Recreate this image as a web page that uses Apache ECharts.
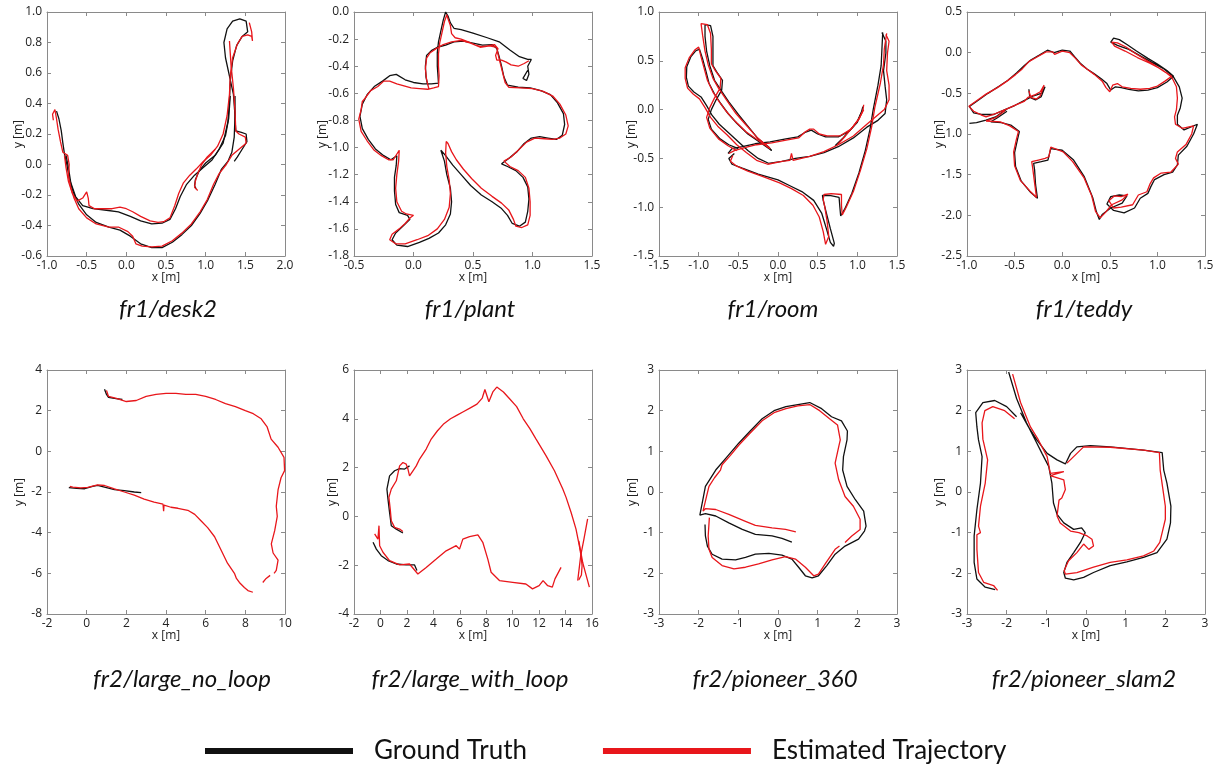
<!DOCTYPE html>
<html><head><meta charset="utf-8">
<script src="https://cdn.jsdelivr.net/npm/echarts@6/dist/echarts.min.js"></script>
<style>html,body{margin:0;padding:0;background:#fff}#c{width:1217px;height:766px}</style>
</head><body><div id="c"></div>
<script>
// ---------- panel titles ----------
const titles = ['fr1/desk2','fr1/plant','fr1/room','fr1/teddy','fr2/large_no_loop','fr2/large_with_loop','fr2/pioneer_360','fr2/pioneer_slam2'];
// ---------- axis ranges [min,max,interval] ----------
const xRanges = [[-1,2,0.5],[-0.5,1.5,0.5],[-1.5,1.5,0.5],[-1,1.5,0.5],[-2,10,2],[-2,16,2],[-3,3,1],[-3,3,1]];
const yRanges = [[-0.6,1.0,0.2],[-1.8,0,0.2],[-1.5,1.0,0.5],[-2.5,0.5,0.5],[-8,4,2],[-4,6,2],[-3,3,1],[-3,3,1]];
const labelDecimals = [1,1,1,1,0,0,0,0];

// ---------- trajectories (segments of [x,y]) ----------
const desk2_gt = [
 [[-0.88,0.35],[-0.85,0.30],[-0.82,0.22],[-0.80,0.14],[-0.78,0.07],[-0.75,0.00],[-0.72,-0.09],[-0.67,-0.18],[-0.60,-0.26],[-0.50,-0.33],[-0.38,-0.38],[-0.22,-0.41],[-0.08,-0.43],[0.05,-0.47],[0.18,-0.52],[0.32,-0.545],[0.45,-0.545],[0.58,-0.51],[0.70,-0.46],[0.82,-0.40],[0.93,-0.32],[1.03,-0.23],[1.12,-0.13],[1.20,-0.03],[1.28,0.02],[1.33,0.08],[1.36,0.18],[1.37,0.32],[1.35,0.46],[1.30,0.58],[1.25,0.70],[1.23,0.80],[1.27,0.89],[1.34,0.94],[1.43,0.955],[1.51,0.94],[1.53,0.87],[1.46,0.84],[1.39,0.78],[1.34,0.68],[1.31,0.55],[1.30,0.42],[1.28,0.28],[1.22,0.14],[1.12,0.06],[1.00,0.01],[0.92,-0.04],[0.87,-0.10],[0.86,-0.14],[0.88,-0.16]],
 [[-0.76,0.06],[-0.73,-0.02],[-0.70,-0.12],[-0.64,-0.21],[-0.55,-0.27],[-0.42,-0.29],[-0.25,-0.30],[-0.10,-0.31],[0.05,-0.34],[0.18,-0.37],[0.32,-0.39],[0.45,-0.385],[0.55,-0.36],[0.62,-0.29],[0.68,-0.21],[0.76,-0.13],[0.86,-0.07],[0.97,-0.02],[1.08,0.03],[1.17,0.10],[1.25,0.19],[1.29,0.30],[1.31,0.45]],
 [[1.37,0.45],[1.37,0.30],[1.38,0.22],[1.45,0.21],[1.51,0.20],[1.52,0.15],[1.46,0.10],[1.40,0.05],[1.36,0.02]]
];
const desk2_est = [
 [[-0.92,0.29],[-0.93,0.33],[-0.90,0.36],[-0.88,0.30],[-0.86,0.23],[-0.83,0.15],[-0.80,0.08],[-0.74,0.06],[-0.72,0.0],[-0.73,-0.07],[-0.70,-0.15],[-0.66,-0.22],[-0.60,-0.29],[-0.50,-0.35],[-0.38,-0.39],[-0.22,-0.41],[-0.10,-0.41],[0.02,-0.44],[0.08,-0.47],[0.12,-0.52],[0.20,-0.535],[0.32,-0.54],[0.45,-0.535],[0.58,-0.50],[0.70,-0.45],[0.82,-0.39],[0.93,-0.31],[1.02,-0.23],[1.10,-0.13],[1.17,-0.06],[1.26,0.0],[1.33,0.06],[1.42,0.10],[1.51,0.14],[1.50,0.18],[1.42,0.20],[1.38,0.22],[1.37,0.35],[1.35,0.50],[1.32,0.65],[1.30,0.81]],
 [[-0.78,0.06],[-0.76,-0.02],[-0.73,-0.11],[-0.68,-0.19],[-0.62,-0.24],[-0.55,-0.22],[-0.50,-0.18],[-0.48,-0.22],[-0.47,-0.27],[-0.40,-0.29],[-0.28,-0.29],[-0.18,-0.29],[-0.08,-0.28],[0.0,-0.29],[0.08,-0.31],[0.18,-0.34],[0.30,-0.37],[0.40,-0.38],[0.47,-0.375],[0.55,-0.35],[0.61,-0.27],[0.66,-0.19],[0.72,-0.12],[0.80,-0.07],[0.88,-0.03],[0.97,0.02],[1.06,0.06],[1.15,0.12],[1.22,0.20],[1.27,0.32],[1.30,0.46],[1.31,0.58],[1.34,0.70],[1.40,0.79],[1.46,0.84],[1.53,0.85],[1.58,0.84],[1.59,0.81],[1.58,0.87],[1.55,0.93]],
 [[1.12,0.10],[1.02,0.05],[0.95,0.0],[0.90,-0.06],[0.87,-0.11],[0.86,-0.15],[0.90,-0.17]]
];
const plant_gt = [
 [[0.96,-0.43],[0.92,-0.49],[0.95,-0.505],[0.97,-0.46],[0.96,-0.40],[0.99,-0.35],[0.96,-0.35],[0.89,-0.33],[0.81,-0.28],[0.72,-0.22],[0.62,-0.19],[0.50,-0.155],[0.40,-0.13],[0.34,-0.12],[0.31,-0.08],[0.29,-0.03],[0.27,0.0],[0.25,-0.06],[0.23,-0.14],[0.21,-0.22],[0.20,-0.30],[0.20,-0.40],[0.205,-0.46],[0.21,-0.525],[0.15,-0.53],[0.08,-0.53],[0.0,-0.52],[-0.07,-0.50],[-0.145,-0.46],[-0.20,-0.47],[-0.26,-0.51],[-0.33,-0.55],[-0.39,-0.61],[-0.43,-0.68],[-0.45,-0.77],[-0.43,-0.86],[-0.38,-0.94],[-0.32,-1.01],[-0.25,-1.06],[-0.19,-1.09],[-0.14,-1.06],[-0.145,-1.13],[-0.16,-1.22],[-0.16,-1.32],[-0.15,-1.42],[-0.12,-1.48],[-0.05,-1.50],[-0.03,-1.53],[-0.09,-1.58],[-0.15,-1.63],[-0.18,-1.68],[-0.14,-1.72],[-0.05,-1.73],[0.05,-1.70],[0.13,-1.67],[0.21,-1.63],[0.27,-1.57],[0.31,-1.49],[0.32,-1.40],[0.31,-1.30],[0.28,-1.20],[0.26,-1.10],[0.23,-1.02],[0.27,-1.06],[0.33,-1.13],[0.40,-1.20],[0.48,-1.28],[0.57,-1.35],[0.66,-1.40],[0.74,-1.45],[0.79,-1.50],[0.83,-1.56],[0.89,-1.58],[0.94,-1.55],[0.96,-1.47],[0.97,-1.38],[0.96,-1.29],[0.92,-1.22],[0.86,-1.17],[0.79,-1.14],[0.74,-1.12],[0.80,-1.08],[0.87,-1.03],[0.93,-0.97],[0.99,-0.93],[1.06,-0.92],[1.13,-0.93],[1.20,-0.94],[1.25,-0.91],[1.27,-0.83],[1.26,-0.75],[1.21,-0.67],[1.15,-0.61],[1.07,-0.58],[0.98,-0.56],[0.88,-0.555],[0.79,-0.54],[0.76,-0.48],[0.74,-0.40],[0.72,-0.33],[0.70,-0.27],[0.66,-0.24],[0.58,-0.245],[0.50,-0.23],[0.42,-0.215],[0.34,-0.22],[0.27,-0.245],[0.20,-0.26],[0.15,-0.285],[0.11,-0.32],[0.10,-0.40],[0.105,-0.48],[0.12,-0.54]]
];
const plant_est = [
 [[0.97,-0.36],[0.93,-0.38],[0.88,-0.40],[0.82,-0.39],[0.78,-0.37],[0.74,-0.355],[0.70,-0.355],[0.69,-0.32],[0.71,-0.27],[0.68,-0.24],[0.62,-0.25],[0.57,-0.255],[0.52,-0.245],[0.46,-0.22],[0.40,-0.20],[0.35,-0.19],[0.32,-0.16],[0.31,-0.10],[0.29,-0.05],[0.28,-0.02],[0.26,-0.07],[0.24,-0.15],[0.22,-0.23],[0.21,-0.31],[0.21,-0.40],[0.215,-0.47],[0.21,-0.55],[0.17,-0.56],[0.12,-0.57],[0.05,-0.565],[-0.02,-0.56],[-0.08,-0.545],[-0.14,-0.53],[-0.20,-0.51],[-0.25,-0.51],[-0.30,-0.55],[-0.36,-0.58],[-0.41,-0.64],[-0.43,-0.66],[-0.44,-0.72],[-0.46,-0.79],[-0.44,-0.88],[-0.39,-0.95],[-0.33,-1.02],[-0.27,-1.06],[-0.21,-1.09],[-0.17,-1.09],[-0.12,-1.02],[-0.125,-1.10],[-0.14,-1.20],[-0.15,-1.30],[-0.14,-1.40],[-0.10,-1.47],[-0.06,-1.49],[0.0,-1.50],[-0.03,-1.52],[-0.07,-1.56],[-0.12,-1.60],[-0.18,-1.64],[-0.20,-1.68],[-0.15,-1.71],[-0.07,-1.71],[0.03,-1.68],[0.12,-1.65],[0.20,-1.60],[0.26,-1.53],[0.30,-1.44],[0.31,-1.34],[0.30,-1.24],[0.28,-1.14],[0.27,-1.04],[0.275,-0.955],[0.29,-0.97],[0.32,-1.03],[0.36,-1.09],[0.42,-1.16],[0.49,-1.23],[0.57,-1.30],[0.66,-1.36],[0.74,-1.41],[0.80,-1.46],[0.84,-1.53],[0.86,-1.58],[0.91,-1.59],[0.96,-1.57],[0.98,-1.50],[0.98,-1.40],[0.97,-1.30],[0.94,-1.22],[0.88,-1.17],[0.81,-1.14],[0.76,-1.10],[0.82,-1.07],[0.88,-1.02],[0.95,-0.96],[1.02,-0.93],[1.10,-0.935],[1.17,-0.94],[1.23,-0.93],[1.28,-0.90],[1.30,-0.84],[1.28,-0.76],[1.23,-0.68],[1.17,-0.62],[1.09,-0.585],[1.00,-0.565],[0.90,-0.56],[0.80,-0.555],[0.77,-0.52],[0.75,-0.45],[0.73,-0.38],[0.71,-0.31],[0.70,-0.26],[0.64,-0.25],[0.56,-0.26],[0.48,-0.23],[0.40,-0.21],[0.32,-0.22],[0.25,-0.24],[0.19,-0.27],[0.14,-0.30],[0.11,-0.34],[0.10,-0.42],[0.11,-0.50],[0.13,-0.57]]
];
const room_gt = [
 [[-0.08,-0.42],[-0.22,-0.34],[-0.38,-0.25],[-0.52,-0.14],[-0.63,-0.04],[-0.72,0.06],[-0.80,0.16],[-0.87,0.27],[-0.91,0.40],[-0.95,0.52],[-0.99,0.62],[-1.04,0.60],[-1.10,0.54],[-1.15,0.44],[-1.155,0.33],[-1.13,0.24],[-1.06,0.18],[-0.97,0.13],[-0.90,0.04],[-0.83,-0.06],[-0.74,-0.15],[-0.62,-0.24],[-0.50,-0.33],[-0.38,-0.42],[-0.25,-0.50],[-0.12,-0.55],[0.05,-0.53],[0.22,-0.50],[0.40,-0.48],[0.58,-0.44],[0.76,-0.38],[0.95,-0.29],[1.12,-0.18],[1.26,-0.11],[1.35,-0.04],[1.37,0.10],[1.35,0.24],[1.33,0.40],[1.36,0.58],[1.36,0.70],[1.31,0.79]],
 [[-0.50,-0.40],[-0.62,-0.36],[-0.73,-0.30],[-0.84,-0.20],[-0.88,-0.10],[-0.84,0.00],[-0.78,0.10],[-0.71,0.20],[-0.70,0.30],[-0.76,0.37],[-0.82,0.45],[-0.82,0.60],[-0.82,0.75],[-0.85,0.86],[-0.92,0.87],[-0.92,0.75],[-0.90,0.60],[-0.86,0.45],[-0.80,0.30],[-0.72,0.20],[-0.62,0.08],[-0.50,-0.05],[-0.38,-0.17],[-0.25,-0.30],[-0.12,-0.38],[-0.08,-0.42]],
 [[-0.63,-0.45],[-0.58,-0.40],[-0.45,-0.38],[-0.29,-0.35],[-0.10,-0.33],[0.10,-0.30],[0.25,-0.28],[0.35,-0.23],[0.42,-0.21],[0.50,-0.25],[0.60,-0.28],[0.76,-0.28],[0.90,-0.22],[1.00,-0.13],[1.05,-0.03],[1.07,0.03]],
 [[0.72,-0.37],[0.82,-0.29],[0.92,-0.20],[1.00,-0.12],[1.05,-0.03]],
 [[-0.55,-0.45],[-0.62,-0.50],[-0.58,-0.56],[-0.45,-0.60],[-0.25,-0.66],[0.0,-0.72],[0.15,-0.78],[0.30,-0.84],[0.45,-0.93],[0.55,-1.06],[0.61,-1.22],[0.66,-1.36],[0.70,-1.40],[0.71,-1.37],[0.66,-1.22],[0.61,-1.06],[0.57,-0.93],[0.56,-0.88],[0.65,-0.88],[0.77,-0.90],[0.78,-1.00],[0.79,-1.09],[0.84,-1.02],[0.93,-0.86],[1.02,-0.65],[1.10,-0.42],[1.16,-0.20],[1.20,0.00],[1.26,0.25],[1.30,0.45],[1.31,0.62],[1.32,0.79]]
];
const room_est = [
 [[-0.10,-0.40],[-0.24,-0.32],[-0.40,-0.23],[-0.54,-0.12],[-0.65,-0.02],[-0.74,0.08],[-0.82,0.18],[-0.89,0.30],[-0.93,0.42],[-0.97,0.54],[-1.0,0.64],[-1.05,0.61],[-1.12,0.53],[-1.17,0.43],[-1.17,0.32],[-1.14,0.22],[-1.07,0.16],[-0.99,0.11],[-0.92,0.02],[-0.85,-0.08],[-0.76,-0.17],[-0.64,-0.26],[-0.52,-0.36],[-0.40,-0.44],[-0.27,-0.52],[-0.13,-0.56],[0.05,-0.53],[0.15,-0.52],[0.17,-0.45],[0.19,-0.52],[0.40,-0.48],[0.58,-0.43],[0.76,-0.36],[0.95,-0.27],[1.12,-0.15],[1.25,-0.06],[1.34,0.0],[1.40,0.10],[1.40,0.25],[1.37,0.40],[1.38,0.58],[1.40,0.70],[1.36,0.77]],
 [[-0.52,-0.42],[-0.63,-0.37],[-0.75,-0.30],[-0.86,-0.19],[-0.90,-0.08],[-0.86,0.02],[-0.80,0.12],[-0.73,0.22],[-0.72,0.32],[-0.79,0.40],[-0.84,0.47],[-0.84,0.62],[-0.85,0.78],[-0.89,0.87],[-0.97,0.88],[-0.95,0.76],[-0.92,0.60],[-0.88,0.46],[-0.82,0.32],[-0.75,0.22],[-0.65,0.10],[-0.53,-0.04],[-0.40,-0.16],[-0.27,-0.28],[-0.14,-0.37],[-0.10,-0.40]],
 [[-0.62,-0.45],[-0.55,-0.42],[-0.42,-0.39],[-0.27,-0.36],[-0.08,-0.34],[0.12,-0.31],[0.26,-0.29],[0.34,-0.23],[0.40,-0.20],[0.45,-0.20],[0.52,-0.25],[0.62,-0.27],[0.78,-0.27],[0.92,-0.20],[1.02,-0.10],[1.07,-0.01],[1.08,0.05]],
 [[0.75,-0.36],[0.85,-0.27],[0.95,-0.17],[1.03,-0.08],[1.08,0.0]],
 [[-0.57,-0.47],[-0.60,-0.53],[-0.52,-0.58],[-0.38,-0.63],[-0.18,-0.69],[0.02,-0.75],[0.17,-0.81],[0.32,-0.88],[0.44,-0.98],[0.52,-1.10],[0.57,-1.25],[0.60,-1.38],[0.62,-1.40],[0.64,-1.30],[0.62,-1.15],[0.59,-1.00],[0.57,-0.92],[0.58,-0.87],[0.67,-0.86],[0.80,-0.87],[0.80,-0.98],[0.81,-1.08],[0.86,-1.00],[0.95,-0.84],[1.04,-0.62],[1.12,-0.40],[1.18,-0.18],[1.22,0.02],[1.29,0.27],[1.33,0.46],[1.34,0.62],[1.37,0.78]]
];
const teddy_gt = [
 [[-0.35,-0.45],[-0.34,-0.55],[-0.28,-0.58],[-0.22,-0.54],[-0.18,-0.42],[-0.22,-0.50],[-0.30,-0.53],[-0.40,-0.59],[-0.50,-0.65],[-0.60,-0.70],[-0.72,-0.76],[-0.85,-0.76],[-0.93,-0.74],[-0.975,-0.66],[-0.90,-0.60],[-0.78,-0.50],[-0.66,-0.41],[-0.57,-0.34],[-0.48,-0.25],[-0.40,-0.16],[-0.33,-0.09],[-0.24,-0.03],[-0.155,0.03],[-0.085,0.0],[0.0,0.03],[0.08,0.02],[0.13,-0.05],[0.19,-0.13],[0.26,-0.20],[0.33,-0.255],[0.41,-0.32],[0.47,-0.38],[0.51,-0.46],[0.56,-0.42],[0.62,-0.43],[0.70,-0.45],[0.80,-0.47],[0.90,-0.46],[1.00,-0.43],[1.10,-0.36],[1.17,-0.29],[1.10,-0.22],[1.00,-0.14],[0.90,-0.07],[0.78,0.02],[0.68,0.10],[0.60,0.16],[0.54,0.18],[0.51,0.13],[0.58,0.09],[0.70,0.04],[0.82,-0.04],[0.94,-0.12],[1.07,-0.20],[1.17,-0.30],[1.23,-0.42],[1.26,-0.56],[1.24,-0.68],[1.21,-0.77],[1.21,-0.88],[1.28,-0.95],[1.42,-0.88],[1.38,-1.00],[1.31,-1.15],[1.22,-1.26],[1.21,-1.38],[1.16,-1.47],[1.07,-1.50],[0.97,-1.56],[0.93,-1.65],[0.90,-1.73],[0.82,-1.79],[0.76,-1.91],[0.65,-1.97],[0.54,-1.94],[0.47,-1.86],[0.51,-1.77],[0.60,-1.75],[0.68,-1.76],[0.63,-1.85],[0.51,-1.91],[0.42,-1.99],[0.39,-2.05],[0.36,-1.96],[0.32,-1.78],[0.23,-1.52],[0.12,-1.32],[0.0,-1.20],[-0.12,-1.18],[-0.15,-1.32],[-0.22,-1.34],[-0.30,-1.36],[-0.29,-1.44],[-0.28,-1.62],[-0.26,-1.79],[-0.33,-1.72],[-0.43,-1.58],[-0.49,-1.40],[-0.50,-1.23],[-0.47,-1.07],[-0.45,-0.97],[-0.54,-0.89],[-0.64,-0.86],[-0.75,-0.85],[-0.68,-0.80],[-0.58,-0.72]],
 [[-0.975,-0.87],[-0.90,-0.86],[-0.80,-0.83],[-0.70,-0.79],[-0.59,-0.70]]
];
const teddy_est = [
 [[-0.35,-0.47],[-0.33,-0.55],[-0.27,-0.57],[-0.23,-0.53],[-0.19,-0.40],[-0.23,-0.48],[-0.29,-0.52],[-0.36,-0.55],[-0.40,-0.60],[-0.48,-0.64],[-0.58,-0.69],[-0.70,-0.75],[-0.80,-0.79],[-0.84,-0.77],[-0.93,-0.72],[-0.98,-0.66],[-0.91,-0.60],[-0.80,-0.51],[-0.68,-0.43],[-0.58,-0.35],[-0.49,-0.27],[-0.42,-0.20],[-0.35,-0.11],[-0.26,-0.05],[-0.17,0.01],[-0.10,0.01],[-0.08,-0.02],[0.0,0.02],[0.08,0.0],[0.14,-0.07],[0.20,-0.15],[0.27,-0.21],[0.34,-0.27],[0.42,-0.35],[0.46,-0.43],[0.50,-0.48],[0.53,-0.40],[0.58,-0.38],[0.63,-0.42],[0.72,-0.44],[0.82,-0.45],[0.92,-0.44],[1.00,-0.41],[1.08,-0.35],[1.15,-0.29],[1.07,-0.23],[0.98,-0.16],[0.88,-0.09],[0.77,-0.01],[0.67,0.07],[0.58,0.12],[0.52,0.13],[0.55,0.08],[0.66,0.02],[0.79,-0.06],[0.92,-0.13],[1.05,-0.21],[1.15,-0.30],[1.20,-0.42],[1.21,-0.56],[1.20,-0.70],[1.18,-0.79],[1.19,-0.88],[1.26,-0.93],[1.38,-0.90],[1.36,-1.00],[1.30,-1.13],[1.21,-1.22],[1.19,-1.30],[1.22,-1.37],[1.14,-1.47],[1.04,-1.48],[0.96,-1.54],[0.92,-1.62],[0.89,-1.71],[0.80,-1.75],[0.74,-1.87],[0.62,-1.90],[0.54,-1.91],[0.49,-1.82],[0.55,-1.76],[0.62,-1.77],[0.69,-1.74],[0.63,-1.81],[0.52,-1.87],[0.45,-1.97],[0.40,-2.03],[0.35,-1.95],[0.31,-1.76],[0.23,-1.54],[0.11,-1.34],[0.01,-1.22],[-0.12,-1.16],[-0.14,-1.28],[-0.18,-1.30],[-0.25,-1.32],[-0.32,-1.34],[-0.31,-1.42],[-0.29,-1.60],[-0.27,-1.78],[-0.34,-1.70],[-0.44,-1.57],[-0.50,-1.39],[-0.51,-1.22],[-0.48,-1.06],[-0.46,-0.97],[-0.55,-0.90],[-0.65,-0.85],[-0.80,-0.84],[-0.82,-0.82],[-0.70,-0.80],[-0.60,-0.71]]
];
const noloop_gt = [
 [[0.9,3.05],[1.0,2.8],[1.1,2.65],[1.4,2.6],[1.8,2.55]],
 [[-0.9,-1.78],[-0.5,-1.82],[-0.1,-1.84],[0.3,-1.72],[0.55,-1.67],[1.0,-1.78],[1.4,-1.88],[1.9,-1.93],[2.4,-2.0],[2.75,-2.03]]
];
const noloop_est = [
 [[1.0,3.0],[1.1,2.7],[1.5,2.6],[2.0,2.45],[2.5,2.5],[3.0,2.7],[3.5,2.8],[4.0,2.85],[4.5,2.85],[5.0,2.8],[5.5,2.8],[6.0,2.7],[6.5,2.55],[7.0,2.35],[7.5,2.2],[8.0,2.0],[8.4,1.85],[8.8,1.6],[9.1,1.2],[9.3,0.6],[9.65,0.2],[9.95,-0.3],[9.98,-0.95],[9.8,-1.3],[9.65,-1.9],[9.56,-2.7],[9.61,-3.2],[9.48,-3.9],[9.31,-4.55],[9.40,-5.0],[9.65,-5.35],[9.56,-5.85],[9.45,-6.0]],
 [[8.88,-6.45],[9.05,-6.25],[9.25,-6.1]],
 [[8.38,-6.93],[8.13,-6.85],[7.95,-6.7],[7.7,-6.45],[7.55,-6.25],[7.45,-6.0],[7.1,-5.5],[6.8,-4.9],[6.45,-4.2],[6.1,-3.75],[5.75,-3.4],[5.45,-3.1],[5.1,-2.9],[4.6,-2.8],[4.25,-2.75],[3.9,-2.65],[3.88,-2.95],[3.85,-2.6],[3.4,-2.5],[2.9,-2.35],[2.4,-2.15],[1.9,-2.0],[1.4,-1.85],[0.9,-1.68],[0.55,-1.65],[0.05,-1.77],[-0.3,-1.8],[-0.7,-1.76],[-0.85,-1.72]]
];
const withloop_gt = [
 [[2.2,2.07],[1.83,1.94],[1.45,1.96],[1.07,1.87],[0.69,1.66],[0.49,1.12],[0.57,0.71],[0.69,0.16],[0.82,-0.38],[1.2,-0.52],[1.7,-0.68]],
 [[-0.56,-1.06],[-0.31,-1.34],[0.06,-1.61],[0.57,-1.81],[1.2,-1.95],[1.95,-1.99],[2.58,-1.99],[2.76,-2.22]]
];
const withloop_est = [
 [[1.7,-0.62],[1.45,-0.52],[1.07,-0.45],[0.82,-0.18],[0.74,0.30],[0.64,0.78],[0.82,1.12],[1.2,1.46],[1.45,2.07],[1.7,2.21],[1.95,2.14],[2.08,1.94],[2.2,1.66],[2.46,1.87],[2.71,2.07],[2.96,2.35],[3.46,2.76],[3.84,3.17],[4.3,3.5],[4.8,3.8],[5.3,4.0],[5.8,4.15],[6.3,4.3],[6.8,4.45],[7.3,4.6],[7.7,4.85],[7.9,5.2],[8.2,4.7],[8.5,5.1],[8.8,5.3],[9.3,5.1],[9.8,4.8],[10.3,4.5],[10.8,4.0],[11.3,3.6],[11.77,3.17],[12.53,2.48],[13.16,1.87],[13.79,1.12],[14.04,0.78],[14.42,0.16],[14.79,-0.52],[15.04,-1.2],[15.17,-1.61],[15.25,-2.02],[15.2,-2.4],[15.0,-2.6]],
 [[15.67,-0.1],[15.4,-0.9],[15.15,-1.6],[14.92,-2.63]],
 [[15.0,-1.0],[15.3,-1.9],[15.6,-2.5],[15.8,-2.9]],
 [[-0.44,-0.72],[-0.19,-0.93],[-0.11,-0.38],[-0.08,-0.9],[-0.06,-1.2],[0.19,-1.47],[0.69,-1.81],[1.45,-1.99],[2.2,-1.95],[2.83,-2.36],[3.46,-2.09],[4.22,-1.75],[4.97,-1.41],[5.73,-1.2],[5.98,-1.34],[6.23,-0.93],[6.74,-0.83],[7.37,-0.76],[7.74,-1.06],[8.12,-1.75],[8.37,-2.29],[9.0,-2.63],[10.0,-2.70],[11.0,-2.77],[11.5,-2.97],[12.0,-2.84],[12.3,-2.63],[12.65,-2.84],[13.0,-2.9],[13.2,-2.56],[13.66,-2.09]]
];
const p360_gt = [
 [[0.35,-1.23],[0.10,-1.14],[-0.15,-1.08],[-0.57,-1.04],[-0.90,-0.92],[-1.24,-0.76],[-1.57,-0.59],[-1.83,-0.53],[-1.97,-0.57],[-1.91,-0.27],[-1.83,0.14],[-1.57,0.54],[-1.28,0.87],[-0.99,1.2],[-0.7,1.5],[-0.4,1.8],[-0.1,2.0],[0.2,2.1],[0.5,2.15],[0.8,2.2],[1.1,2.05],[1.35,1.85],[1.6,1.75],[1.75,1.5],[1.74,1.28],[1.65,0.87],[1.63,0.54],[1.74,0.14],[1.95,-0.19],[2.16,-0.47],[2.22,-0.84],[2.18,-0.96],[2.03,-1.16],[1.69,-1.33],[1.44,-1.53],[1.23,-1.81],[1.02,-2.06],[0.86,-2.11],[0.69,-2.06],[0.52,-1.85],[0.35,-1.65],[0.10,-1.55],[-0.23,-1.51],[-0.57,-1.53],[-0.82,-1.61],[-1.07,-1.67],[-1.41,-1.65],[-1.66,-1.53],[-1.78,-1.33],[-1.83,-1.08],[-1.84,-0.80]]
];
const p360_est = [
 [[0.45,-0.98],[0.19,-0.92],[-0.15,-0.88],[-0.57,-0.82],[-0.82,-0.72],[-1.24,-0.55],[-1.57,-0.43],[-1.83,-0.41],[-1.89,-0.47],[-1.80,-0.1],[-1.74,0.14],[-1.6,0.35],[-1.45,0.54],[-1.41,0.67],[-1.2,0.9],[-0.99,1.15],[-0.7,1.45],[-0.4,1.75],[-0.1,1.95],[0.2,2.05],[0.5,2.12],[0.8,2.15],[1.05,2.0],[1.3,1.8],[1.5,1.65],[1.57,1.28],[1.53,1.11],[1.44,0.71],[1.53,0.30],[1.69,-0.11],[1.90,-0.35],[2.07,-0.67],[2.07,-0.92],[1.86,-1.08],[1.69,-1.24]],
 [[1.55,-1.33],[1.44,-1.41],[1.19,-1.77],[1.02,-2.02],[0.90,-2.06],[0.69,-1.85],[0.44,-1.65],[0.19,-1.59],[-0.15,-1.67],[-0.49,-1.77],[-0.82,-1.85],[-1.11,-1.89],[-1.41,-1.81],[-1.66,-1.61],[-1.74,-1.41],[-1.76,-1.08],[-1.73,-0.63]]
];
const slam2_gt = [
 [[-1.75,1.85],[-2.0,2.1],[-2.3,2.25],[-2.6,2.2],[-2.78,1.95],[-2.75,1.6],[-2.71,1.28],[-2.62,0.87],[-2.66,0.22],[-2.75,-0.43],[-2.82,-1.08],[-2.82,-1.73],[-2.75,-2.14],[-2.54,-2.34],[-2.29,-2.40]],
 [[-1.95,2.95],[-1.75,2.3],[-1.5,1.7],[-1.28,1.28],[-1.11,0.95],[-0.94,0.63],[-0.86,0.22],[-0.82,-0.27],[-0.73,-0.55],[-0.56,-0.76],[-0.31,-0.92],[-0.11,-0.88],[-0.02,-1.0],[-0.14,-1.24],[-0.31,-1.49],[-0.48,-1.73],[-0.56,-1.98],[-0.52,-2.12],[-0.31,-2.16],[-0.06,-2.10],[0.19,-1.98],[0.61,-1.81],[1.03,-1.72],[1.45,-1.61],[1.79,-1.49],[2.04,-1.16],[2.13,-0.76],[2.14,-0.35],[2.04,0.22],[1.96,0.54],[1.92,0.97],[1.45,1.03],[0.61,1.11],[0.11,1.14],[-0.23,1.11],[-0.39,0.95],[-0.52,0.69],[-0.73,0.79],[-0.98,0.95],[-1.24,1.28],[-1.45,1.6],[-1.65,1.95]]
];
const slam2_est = [
 [[-1.8,1.8],[-2.05,2.0],[-2.35,2.1],[-2.55,2.0],[-2.62,1.7],[-2.6,1.3],[-2.48,0.79],[-2.54,0.22],[-2.66,-0.35],[-2.71,-0.84],[-2.66,-1.0],[-2.75,-1.05],[-2.75,-1.41],[-2.71,-1.98],[-2.58,-2.22],[-2.33,-2.30],[-2.23,-2.42]],
 [[-1.85,2.9],[-1.65,2.2],[-1.4,1.6],[-1.2,1.28],[-0.98,0.87],[-0.9,0.46],[-0.56,0.50],[-0.9,0.40],[-0.56,0.30],[-0.52,0.06],[-0.61,-0.15],[-0.68,-0.2],[-0.73,-0.59],[-0.65,-0.76],[-0.39,-0.96],[-0.18,-1.0],[0.03,-1.08],[0.15,-1.16],[0.19,-1.33],[0.07,-1.41],[-0.06,-1.28],[-0.23,-1.49],[-0.44,-1.69],[-0.55,-1.93],[-0.52,-2.02],[-0.23,-1.98],[0.19,-1.85],[0.61,-1.73],[1.03,-1.67],[1.45,-1.57],[1.71,-1.45],[1.86,-1.24],[1.92,-1.0],[2.0,-0.67],[2.0,-0.35],[1.94,0.06],[1.87,0.54],[1.85,0.97],[1.45,1.03],[0.61,1.10],[-0.06,1.11],[-0.48,0.71]]
];

const gtSets  = [desk2_gt, plant_gt, room_gt, teddy_gt, noloop_gt, withloop_gt, p360_gt, slam2_gt];
const estSets = [desk2_est, plant_est, room_est, teddy_est, noloop_est, withloop_est, p360_est, slam2_est];

// ---------- layout ----------
const gridLeft = [47, 354, 659, 967];
const gridTop = [12, 370];
const gridW = 238, gridH = 244;
const yNameGap = [22, 25, 21, 21, 21, 15, 20, 21];
const GT_COLOR = '#111111', EST_COLOR = '#e8161b';
const FONT = "'Open Sans', sans-serif";

const grid = [], xAxis = [], yAxis = [], series = [], title = [];
for (let i = 0; i < 8; i++) {
  const col = i % 4, row = Math.floor(i / 4);
  grid.push({left: gridLeft[col], top: gridTop[row], width: gridW, height: gridH, show: false});
}
const axLine = {show: true, onZero: false, lineStyle: {color: '#8a8a8a', width: 1}};
const axTick = {show: true, inside: true, length: 4, lineStyle: {color: '#8a8a8a'}};
for (let i = 0; i < 8; i++) {
  const d = labelDecimals[i];
  const fmt = v => (Math.abs(v) < 1e-9 ? 0 : v).toFixed(d);
  xAxis.push({type: 'value', gridIndex: i, position: 'bottom', min: xRanges[i][0], max: xRanges[i][1], interval: xRanges[i][2],
    name: 'x [m]', nameLocation: 'middle', nameGap: 16, nameMoveOverlap: false, nameTextStyle: {fontFamily: FONT, fontSize: 12, color: '#222'},
    axisLine: axLine, axisTick: axTick, splitLine: {show: false},
    axisLabel: {formatter: fmt, fontFamily: FONT, fontSize: 12, color: '#222', margin: 4}});
  yAxis.push({type: 'value', gridIndex: i, position: 'left', min: yRanges[i][0], max: yRanges[i][1], interval: yRanges[i][2],
    name: 'y [m]', nameLocation: 'middle', nameGap: yNameGap[i], nameMoveOverlap: false, nameTextStyle: {fontFamily: FONT, fontSize: 12, color: '#222'},
    axisLine: axLine, axisTick: axTick, splitLine: {show: false},
    axisLabel: {formatter: fmt, fontFamily: FONT, fontSize: 12, color: '#222', margin: 5}});
}
for (let i = 0; i < 8; i++) {
  xAxis.push({type: 'value', gridIndex: i, position: 'top', min: xRanges[i][0], max: xRanges[i][1], interval: xRanges[i][2],
    axisLine: axLine, axisTick: axTick, splitLine: {show: false}, axisLabel: {show: false}});
  yAxis.push({type: 'value', gridIndex: i, position: 'right', min: yRanges[i][0], max: yRanges[i][1], interval: yRanges[i][2],
    axisLine: axLine, axisTick: axTick, splitLine: {show: false}, axisLabel: {show: false}});
}
function addLines(sets, name, color, z) {
  sets.forEach((segs, i) => {
    segs.forEach(seg => {
      series.push({type: 'line', name: name, xAxisIndex: i, yAxisIndex: i, data: seg, showSymbol: false, symbol: 'none',
        silent: true, z: z, lineStyle: {color: color, width: 1.3}, itemStyle: {color: color}});
    });
  });
}
addLines(gtSets, 'Ground Truth', GT_COLOR, 2);
addLines(estSets, 'Estimated Trajectory', EST_COLOR, 3);

const titleCenters = [163, 465, 768, 1079];
const titleCenters2 = [177, 465, 770, 1079];
const titleTops = [292, 662];
for (let i = 0; i < 8; i++) {
  const row = Math.floor(i / 4);
  title.push({text: titles[i], left: (row === 0 ? titleCenters : titleCenters2)[i % 4], top: titleTops[row], textAlign: 'center',
    textStyle: {fontFamily: "Lato, sans-serif", fontStyle: 'italic', fontWeight: 'normal', fontSize: 24, color: '#111'}});
}

const chart = echarts.init(document.getElementById('c'), null, {renderer: 'canvas'});
chart.setOption({
  animation: false,
  backgroundColor: '#fff',
  title: title,
  grid: grid, xAxis: xAxis, yAxis: yAxis, series: series,
  legend: {data: ['Ground Truth', 'Estimated Trajectory'], left: 200, top: 733, icon: 'rect',
    itemWidth: 148, itemHeight: 6, itemGap: 76, selectedMode: false,
    textStyle: {fontFamily: "Lato, sans-serif", fontSize: 26, color: '#111', padding: [0, 0, 0, 16]}}
});
</script></body></html>
